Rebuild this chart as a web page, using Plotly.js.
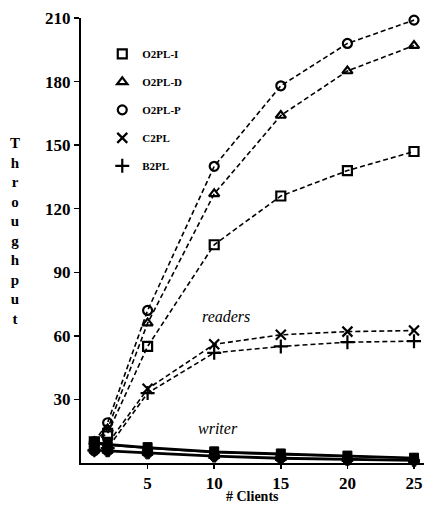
<!DOCTYPE html>
<html>
<head>
<meta charset="utf-8">
<script src="https://cdn.plot.ly/plotly-3.0.1.min.js"></script>
<style>
  html, body { margin: 0; padding: 0; background: #fff; }
  #chart { width: 424px; height: 505px; }
</style>
</head>
<body>
<div id="chart"></div>
<script>
// Number of clients on the x axis
const clients = [1, 2, 5, 10, 15, 20, 25];

// Protocol names
const protocols = ['O2PL-I', 'O2PL-D', 'O2PL-P', 'C2PL', 'B2PL'];

// Reader throughput per protocol
const readersO2PLI = [10, 14, 55, 103, 126, 138, 147];
const readersO2PLD = [10, 16, 66, 127, 164, 185, 197];
const readersO2PLP = [10, 19, 72, 140, 178, 198, 209];
const readersC2PL  = [7, 9, 35, 56, 60.5, 62, 62.5];
const readersB2PL  = [6, 7, 33, 52, 55, 57, 57.5];

// Writer throughput per protocol
const writerO2PLI = [10, 9, 7.5, 5.5, 4.5, 3.5, 2.5];
const writerO2PLD = [9, 8.5, 7, 5, 4, 3, 2.3];
const writerO2PLP = [9.5, 8.5, 7, 5, 4, 3, 2.2];
const writerC2PL  = [6, 6, 5, 3.5, 2.5, 2, 1.5];
const writerB2PL  = [6, 5.5, 4.5, 3, 2, 1.5, 1];

// Axis ticks
const xTicks = [5, 10, 15, 20, 25];
const yTicks = [30, 60, 90, 120, 150, 180, 210];

const readers = [readersO2PLI, readersO2PLD, readersO2PLP, readersC2PL, readersB2PL];
const writers = [writerO2PLI, writerO2PLD, writerO2PLP, writerC2PL, writerB2PL];
const openSymbols = ['square-open', 'triangle-up-open', 'circle-open', 'x-thin-open', 'cross-thin-open'];
const fillSymbols = ['square', 'triangle-up', 'circle', 'x', 'cross'];

const serif = 'Liberation Serif, Times New Roman, serif';
const traces = [];

// Dashed reader curves (no legend entry)
protocols.forEach((name, i) => {
  traces.push({
    x: clients, y: readers[i], name: name + ' readers', type: 'scatter', mode: 'lines',
    showlegend: false, cliponaxis: false,
    line: { color: '#000', width: 1.6, dash: '5px,3px' }
  });
});
// Solid writer curves with filled markers
protocols.forEach((name, i) => {
  traces.push({
    x: clients, y: writers[i], name: name + ' writer', type: 'scatter', mode: 'lines+markers',
    showlegend: false, cliponaxis: false,
    line: { color: '#000', width: 1.8 },
    marker: { symbol: fillSymbols[i], size: 9, color: '#000',
              line: { color: '#000', width: 1 } }
  });
});
// Open reader markers, which also carry the legend
protocols.forEach((name, i) => {
  traces.push({
    x: clients, y: readers[i], name: name, type: 'scatter', mode: 'markers',
    legendgroup: name, cliponaxis: false,
    marker: { symbol: openSymbols[i], size: i >= 3 ? 10 : 9, color: '#000',
              line: { color: '#000', width: 2.2 } }
  });
});

const layout = {
  width: 424, height: 505,
  margin: { l: 81, r: 0, t: 18, b: 42 },
  paper_bgcolor: '#fff', plot_bgcolor: '#fff',
  font: { family: serif, color: '#000' },
  xaxis: {
    range: [0, 25.75], tickvals: xTicks, ticktext: xTicks.map(String),
    showgrid: false, zeroline: false, showline: true, linecolor: '#000', linewidth: 2,
    ticks: 'outside', ticklen: 4, tickwidth: 1.5, tickcolor: '#000',
    tickfont: { family: serif, size: 17, color: '#000', weight: 'bold' }
  },
  yaxis: {
    range: [0, 210], tickvals: yTicks, ticktext: yTicks.map(String),
    showgrid: false, zeroline: false, showline: true, linecolor: '#000', linewidth: 2,
    ticks: 'outside', ticklen: 5, tickwidth: 1.5, tickcolor: '#000',
    tickfont: { family: serif, size: 17, color: '#000', weight: 'bold' }
  },
  showlegend: true,
  legend: {
    x: 0.062, y: 0.952, xanchor: 'left', yanchor: 'top',
    bgcolor: 'rgba(0,0,0,0)', borderwidth: 0,
    tracegroupgap: 9,
    font: { family: serif, size: 11, color: '#000', weight: 'bold' }
  },
  annotations: [
    { text: 'T<br>h<br>r<br>o<br>u<br>g<br>h<br>p<br>u<br>t', xref: 'paper', yref: 'paper',
      x: -0.192, y: 0.521, xanchor: 'center', yanchor: 'middle', showarrow: false,
      font: { family: serif, size: 15, color: '#000', weight: 'bold' } },
    { text: '# Clients', xref: 'paper', yref: 'paper', x: 0.5, y: -0.0764,
      xanchor: 'center', yanchor: 'middle', showarrow: false,
      font: { family: serif, size: 14, color: '#000', weight: 'bold' } },
    { text: '<i>readers</i>', xref: 'x', yref: 'y', x: 10.85, y: 69,
      showarrow: false, font: { family: serif, size: 16, color: '#000' } },
    { text: '<i>writer</i>', xref: 'x', yref: 'y', x: 10.3, y: 16.2,
      showarrow: false, font: { family: serif, size: 16, color: '#000' } }
  ]
};

Plotly.newPlot('chart', traces, layout, { displayModeBar: false, staticPlot: true });
</script>
</body>
</html>
